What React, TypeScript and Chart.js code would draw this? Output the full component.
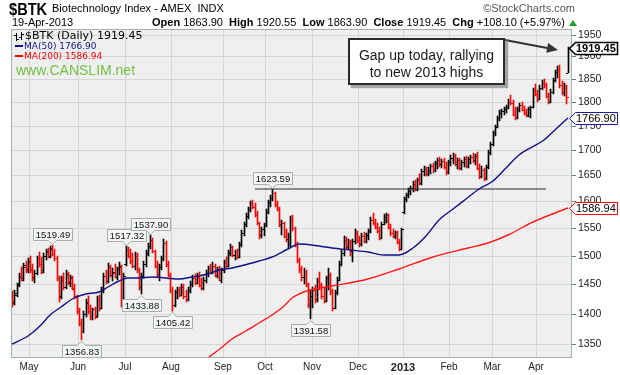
import React, { useEffect, useRef } from "react";
import { Chart, registerables } from "chart.js";

Chart.register(...registerables);

// ---------- Daily bars [open, high, low, close] ----------
const apr2012 = [
  [1425, 1438, 1412, 1418], [1420, 1440, 1415, 1435], [1432, 1452, 1428, 1448], [1450, 1470, 1445, 1465],
  [1462, 1480, 1455, 1458], [1460, 1487, 1456, 1483], [1480, 1490, 1470, 1474], [1476, 1495, 1470, 1490],
];
const may2012 = [
  [1488, 1500, 1470, 1475], [1476, 1485, 1455, 1460], [1462, 1475, 1452, 1470], [1470, 1500, 1466, 1495],
  [1495, 1506, 1480, 1485], [1485, 1498, 1468, 1472], [1474, 1505, 1470, 1500], [1500, 1512, 1492, 1508],
  [1506, 1514, 1495, 1498], [1500, 1518, 1496, 1514], [1512, 1519.49, 1500, 1503], [1503, 1512, 1490, 1495],
  [1495, 1500, 1455, 1460], [1460, 1465, 1420, 1428], [1430, 1465, 1425, 1460], [1458, 1470, 1440, 1445],
  [1446, 1475, 1442, 1468], [1466, 1472, 1448, 1452], [1454, 1466, 1445, 1462], [1460, 1464, 1440, 1443],
  [1442, 1450, 1425, 1430], [1428, 1432, 1400, 1405],
];
const jun2012 = [
  [1405, 1410, 1380, 1385], [1385, 1392, 1356.83, 1372], [1372, 1405, 1368, 1400], [1400, 1425, 1395, 1420],
  [1418, 1430, 1400, 1405], [1405, 1415, 1390, 1396], [1396, 1410, 1390, 1408], [1408, 1412, 1392, 1395],
  [1396, 1430, 1394, 1425], [1425, 1432, 1405, 1410], [1410, 1445, 1408, 1440], [1440, 1470, 1435, 1465],
  [1465, 1475, 1450, 1455], [1456, 1487, 1452, 1480], [1480, 1484, 1462, 1466], [1466, 1478, 1455, 1472],
  [1470, 1485, 1460, 1462], [1462, 1480, 1458, 1476], [1476, 1488, 1466, 1482], [1480, 1484, 1411, 1420],
  [1420, 1470, 1418, 1465],
];
const jul2012 = [
  [1485, 1517.32, 1482, 1510], [1510, 1516, 1495, 1500], [1500, 1512, 1485, 1490], [1490, 1505, 1478, 1482],
  [1482, 1506, 1475, 1500], [1500, 1504, 1470, 1474], [1474, 1478, 1440, 1446], [1446, 1470, 1433.88, 1465],
  [1465, 1490, 1460, 1486], [1486, 1510, 1480, 1505], [1505, 1522, 1500, 1518], [1518, 1537.9, 1512, 1528],
  [1528, 1532, 1505, 1508], [1508, 1510, 1478, 1482], [1482, 1490, 1462, 1468], [1468, 1485, 1455, 1480],
  [1480, 1500, 1475, 1495], [1495, 1530, 1490, 1522], [1522, 1526, 1480, 1486], [1486, 1490, 1462, 1466],
  [1466, 1470, 1435, 1440],
];
const aug2012 = [
  [1440, 1445, 1405.42, 1415], [1415, 1440, 1412, 1436], [1436, 1445, 1425, 1440], [1440, 1446, 1428, 1432],
  [1432, 1450, 1430, 1445], [1445, 1450, 1425, 1430], [1430, 1440, 1420, 1425], [1425, 1445, 1422, 1440],
  [1440, 1455, 1435, 1450], [1450, 1466, 1445, 1460], [1460, 1468, 1448, 1452], [1452, 1470, 1450, 1465],
  [1465, 1472, 1445, 1448], [1448, 1460, 1440, 1444], [1444, 1462, 1440, 1458], [1458, 1475, 1452, 1470],
  [1470, 1482, 1462, 1478], [1478, 1486, 1468, 1472], [1472, 1488, 1468, 1482], [1482, 1486, 1462, 1466],
  [1466, 1480, 1460, 1476], [1476, 1482, 1455, 1458], [1458, 1478, 1452, 1474],
];
const sep2012 = [
  [1474, 1492, 1470, 1488], [1488, 1498, 1478, 1482], [1482, 1510, 1480, 1505], [1505, 1520, 1500, 1515],
  [1515, 1518, 1498, 1502], [1502, 1510, 1492, 1506], [1506, 1512, 1494, 1498], [1498, 1525, 1496, 1520],
  [1520, 1546, 1516, 1540], [1540, 1562, 1536, 1558], [1558, 1578, 1552, 1572], [1572, 1590, 1566, 1585],
  [1585, 1600, 1580, 1596], [1596, 1602, 1585, 1590], [1590, 1596, 1570, 1575], [1575, 1582, 1555, 1560],
  [1560, 1562, 1530, 1538], [1538, 1552, 1532, 1548], [1548, 1560, 1535, 1555],
];
const oct2012 = [
  [1555, 1585, 1552, 1580], [1580, 1602, 1576, 1598], [1598, 1612, 1590, 1606], [1606, 1623.59, 1600, 1615],
  [1615, 1618, 1590, 1594], [1594, 1600, 1582, 1586], [1586, 1590, 1552, 1558], [1558, 1565, 1538, 1560],
  [1560, 1562, 1532, 1536], [1536, 1548, 1525, 1530], [1530, 1540, 1513, 1535], [1535, 1572, 1515, 1566],
  [1566, 1575, 1545, 1550], [1550, 1552, 1515, 1520], [1520, 1525, 1487, 1492], [1492, 1496, 1470, 1476],
  [1476, 1482, 1455, 1462], [1462, 1478, 1450, 1470], [1470, 1474, 1446, 1450], [1450, 1452, 1410, 1415],
  [1415, 1440, 1391.58, 1430],
];
const nov2012 = [
  [1430, 1445, 1410, 1440], [1440, 1448, 1418, 1425], [1425, 1460, 1420, 1455], [1455, 1472, 1440, 1448],
  [1448, 1452, 1425, 1430], [1430, 1445, 1418, 1422], [1422, 1465, 1420, 1460], [1460, 1478, 1440, 1466],
  [1466, 1470, 1432, 1438], [1438, 1442, 1405, 1410], [1410, 1440, 1408, 1436], [1436, 1462, 1432, 1458],
  [1458, 1490, 1455, 1485], [1485, 1510, 1482, 1505], [1505, 1535, 1500, 1528], [1528, 1534, 1512, 1516],
  [1516, 1530, 1510, 1524], [1524, 1528, 1500, 1508], [1508, 1530, 1488, 1526], [1526, 1548, 1520, 1540],
  [1540, 1545, 1522, 1528],
];
const dec2012 = [
  [1528, 1535, 1515, 1520], [1520, 1540, 1518, 1535], [1535, 1542, 1522, 1526], [1526, 1540, 1522, 1538],
  [1538, 1548, 1528, 1544], [1544, 1570, 1540, 1565], [1565, 1578, 1555, 1560], [1560, 1566, 1548, 1552],
  [1552, 1560, 1540, 1545], [1545, 1552, 1528, 1532], [1532, 1562, 1530, 1558], [1558, 1576, 1555, 1570],
  [1570, 1578, 1560, 1574], [1574, 1576, 1548, 1552], [1552, 1558, 1535, 1540], [1540, 1548, 1532, 1536],
  [1536, 1545, 1530, 1542], [1542, 1544, 1520, 1524], [1524, 1530, 1508, 1512], [1512, 1550, 1510, 1548],
];
const jan2013 = [
  [1580, 1608, 1576, 1604], [1604, 1616, 1598, 1612], [1612, 1626, 1606, 1620], [1620, 1630, 1612, 1626],
  [1626, 1638, 1618, 1634], [1634, 1640, 1620, 1624], [1624, 1645, 1620, 1640], [1640, 1652, 1632, 1635],
  [1635, 1662, 1632, 1658], [1658, 1668, 1648, 1662], [1662, 1666, 1648, 1652], [1652, 1666, 1648, 1660],
  [1660, 1672, 1652, 1668], [1668, 1674, 1655, 1660], [1660, 1678, 1656, 1674], [1674, 1684, 1662, 1680],
  [1680, 1686, 1666, 1672], [1672, 1682, 1664, 1678], [1678, 1684, 1662, 1666], [1666, 1676, 1650, 1656],
  [1656, 1680, 1652, 1676],
];
const feb2013 = [
  [1676, 1690, 1668, 1684], [1684, 1694, 1672, 1688], [1688, 1692, 1668, 1672], [1672, 1684, 1662, 1680],
  [1680, 1684, 1660, 1664], [1664, 1680, 1660, 1676], [1676, 1686, 1666, 1682], [1682, 1688, 1664, 1668],
  [1668, 1686, 1664, 1682], [1682, 1690, 1672, 1686], [1686, 1694, 1674, 1680], [1680, 1692, 1670, 1688],
  [1688, 1696, 1660, 1665], [1665, 1672, 1642, 1648], [1648, 1668, 1645, 1660], [1660, 1664, 1638, 1645],
  [1645, 1670, 1640, 1666], [1666, 1700, 1662, 1696], [1696, 1716, 1690, 1712],
];
const mar2013 = [
  [1712, 1740, 1708, 1735], [1735, 1752, 1728, 1748], [1748, 1770, 1745, 1766], [1766, 1782, 1760, 1776],
  [1776, 1786, 1766, 1780], [1780, 1790, 1772, 1786], [1786, 1794, 1776, 1790], [1790, 1806, 1785, 1800],
  [1800, 1815, 1794, 1798], [1798, 1804, 1770, 1775], [1775, 1790, 1762, 1768], [1768, 1790, 1765, 1786],
  [1786, 1798, 1778, 1794], [1794, 1800, 1780, 1784], [1784, 1792, 1772, 1776], [1776, 1785, 1768, 1772],
  [1772, 1790, 1768, 1786], [1786, 1792, 1766, 1790], [1790, 1830, 1788, 1826], [1826, 1838, 1812, 1818],
];
const apr2013 = [
  [1818, 1826, 1800, 1806], [1806, 1836, 1804, 1830], [1830, 1848, 1826, 1842], [1842, 1850, 1830, 1836],
  [1836, 1840, 1808, 1812], [1812, 1820, 1796, 1800], [1800, 1828, 1798, 1822], [1822, 1852, 1818, 1848],
  [1848, 1870, 1844, 1866], [1866, 1878, 1852, 1872], [1872, 1880, 1830, 1836], [1836, 1845, 1815, 1822],
  [1822, 1840, 1812, 1830], [1830, 1836, 1796, 1811.35], [1863.9, 1920.55, 1863.9, 1919.45],
];

// ---------- Axis labels ----------
const monthNames = ["May", "Jun", "Jul", "Aug", "Sep", "Oct", "Nov", "Dec", "2013", "Feb", "Mar", "Apr"];
const priceTicks = [1350, 1400, 1450, 1500, 1550, 1600, 1650, 1700, 1750, 1800, 1850, 1900, 1950];

// ---------- Moving averages (bar index, value) ----------
const ma50Day = [0, 7, 13, 17, 22, 28, 33, 39, 43, 48, 52, 57, 63, 75, 81, 88, 93, 99, 106, 111, 117, 124, 129, 138, 144, 152, 160, 167, 174, 180, 186, 192, 198, 204, 210, 216, 222, 228, 239, 245, 250];
const ma50Value = [1350, 1364, 1381, 1398, 1411, 1427, 1433, 1436, 1445, 1455, 1460, 1460, 1462, 1459, 1462, 1467, 1475, 1478, 1485, 1490, 1498, 1512, 1520, 1518, 1513, 1511, 1506, 1502, 1502, 1513, 1536, 1564, 1586, 1604, 1623, 1639, 1665, 1690, 1720, 1745, 1766.9];
const ma200Day = [85, 94, 99, 105, 111, 117, 122, 126, 129, 134, 144, 160, 174, 189, 205, 214, 223, 234, 250];
const ma200Value = [1321, 1345, 1358, 1371, 1385, 1398, 1413, 1427, 1434, 1440, 1447, 1459, 1476, 1497, 1514, 1523, 1538, 1562, 1586.94];

// ---------- Annotations ----------
const resistanceLevel = 1623.59;
const resistanceSpan = [109, 240];
const peakLabels = [[18, 1519.49], [51, 1517.32], [62, 1537.9], [117, 1623.59]];
const troughLabels = [[31, 1356.83], [58, 1433.88], [72, 1405.42], [134, 1391.58]];
const lastClose = 1919.45;
const lastMa50 = 1766.9;
const lastMa200 = 1586.94;

const SANS = '"Liberation Sans", Arial, Helvetica, sans-serif';
const VERD = '"DejaVu Sans", Verdana, sans-serif';

const monthBars = [apr2012, may2012, jun2012, jul2012, aug2012, sep2012, oct2012, nov2012, dec2012, jan2013, feb2013, mar2013, apr2013];
const bars = monthBars.flat();
const monthStarts: number[] = (() => {
  const out: number[] = [];
  let acc = 0;
  monthBars.forEach((m, k) => {
    if (k > 0) out.push(acc);
    acc += m.length;
  });
  return out;
})();
const isUp = bars.map((b, i) => b[3] >= (i === 0 ? b[0] : bars[i - 1][3]));

const BAR_DS = 3;
const OPEN_DS = 4;
const CLOSE_DS = 5;

function tickImage(color: string, side: "open" | "close") {
  const c = document.createElement("canvas");
  c.width = 5;
  c.height = 1;
  const g = c.getContext("2d")!;
  g.fillStyle = color;
  g.fillRect(side === "open" ? 0 : 3, 0, 2, 1);
  return c;
}

function priceLabel(ctx: CanvasRenderingContext2D, x: number, yTip: number, text: string, above: boolean) {
  ctx.font = `9.5px ${SANS}`;
  const w = Math.round(ctx.measureText(text).width) + 5;
  const h = 12;
  const cx = Math.round(x) + 0.5;
  const left = Math.round(x - w / 2) + 0.5;
  ctx.beginPath();
  let top: number;
  if (above) {
    const bottom = Math.round(yTip) - 5 + 0.5;
    top = bottom - h;
    ctx.moveTo(left, top);
    ctx.lineTo(left + w, top);
    ctx.lineTo(left + w, bottom);
    ctx.lineTo(cx + 4, bottom);
    ctx.lineTo(cx, bottom + 4);
    ctx.lineTo(cx - 4, bottom);
    ctx.lineTo(left, bottom);
  } else {
    top = Math.round(yTip) + 5 + 0.5;
    const bottom = top + h;
    ctx.moveTo(left, top);
    ctx.lineTo(cx - 4, top);
    ctx.lineTo(cx, top - 4);
    ctx.lineTo(cx + 4, top);
    ctx.lineTo(left + w, top);
    ctx.lineTo(left + w, bottom);
    ctx.lineTo(left, bottom);
  }
  ctx.closePath();
  ctx.fillStyle = "#f4f6f4";
  ctx.fill();
  ctx.strokeStyle = "#a3b0a8";
  ctx.lineWidth = 1;
  ctx.stroke();
  ctx.fillStyle = "#111";
  ctx.textAlign = "center";
  ctx.textBaseline = "middle";
  ctx.fillText(text, left + w / 2, top + h / 2 + 0.5);
}

function valueTag(ctx: CanvasRenderingContext2D, yPix: number, border: string, bold: boolean, text: string, lw: number) {
  const yc = Math.round(yPix) + 0.5;
  const x0 = 569.5, x1 = 575.5, x2 = 617.5, h = 6;
  ctx.beginPath();
  ctx.moveTo(x0, yc);
  ctx.lineTo(x1, yc - h);
  ctx.lineTo(x2, yc - h);
  ctx.lineTo(x2, yc + h);
  ctx.lineTo(x1, yc + h);
  ctx.closePath();
  ctx.fillStyle = "#ffffff";
  ctx.fill();
  ctx.strokeStyle = border;
  ctx.lineWidth = lw;
  ctx.stroke();
  ctx.fillStyle = "#000";
  ctx.font = `${bold ? "bold " : ""}11px ${SANS}`;
  ctx.textAlign = "left";
  ctx.textBaseline = "middle";
  ctx.fillText(text, 576, yc + 0.5);
}

const decorPlugin = {
  id: "decor",
  beforeDraw(chart: any) {
    const { ctx, chartArea: a } = chart;
    ctx.save();
    ctx.fillStyle = "#ffffff";
    ctx.fillRect(0, 0, chart.width, chart.height);
    ctx.fillStyle = "#efefef";
    ctx.fillRect(a.left, a.top, a.right - a.left, a.bottom - a.top);
    ctx.restore();
  },
  beforeDatasetDraw(chart: any, args: any) {
    // keep the 1px OHLC strokes on whole device pixels
    if (args.index === BAR_DS) {
      chart.ctx.save();
      chart.ctx.translate(0.5, 0);
    } else if (args.index === OPEN_DS || args.index === CLOSE_DS) {
      chart.ctx.save();
      chart.ctx.translate(0.5, 0.5);
    }
  },
  afterDatasetDraw(chart: any, args: any) {
    if (args.index === BAR_DS || args.index === OPEN_DS || args.index === CLOSE_DS) chart.ctx.restore();
  },
  afterDatasetsDraw(chart: any) {
    const { ctx, chartArea: a } = chart;
    const xs = chart.scales.x;
    const ys = chart.scales.y;
    ctx.save();
    // plot frame
    ctx.strokeStyle = "#9fb2a8";
    ctx.lineWidth = 1;
    ctx.strokeRect(a.left + 0.5, a.top + 0.5, a.right - a.left - 1, a.bottom - a.top - 1);

    // high / low labels
    peakLabels.forEach(([i, v]) => priceLabel(ctx, xs.getPixelForValue(i), ys.getPixelForValue(v), v.toFixed(2), true));
    troughLabels.forEach(([i, v]) => priceLabel(ctx, xs.getPixelForValue(i), ys.getPixelForValue(v), v.toFixed(2), false));

    // legend OHLC icon
    ctx.fillStyle = "#000";
    ctx.fillRect(16, 33, 1, 8);
    ctx.fillRect(14, 35, 2, 1);
    ctx.fillRect(17, 39, 2, 1);
    ctx.fillRect(21, 32, 1, 8);
    ctx.fillRect(19, 37, 2, 1);
    ctx.fillRect(22, 34, 2, 1);

    // arrow from the note box to the last bar
    const tx = 558, ty = 50, sx = 505, sy = 40;
    const dx = tx - sx, dy = ty - sy;
    const len = Math.hypot(dx, dy);
    const ux = dx / len, uy = dy / len;
    const bx = tx - ux * 11, by = ty - uy * 11;
    ctx.strokeStyle = "#333";
    ctx.lineWidth = 2;
    ctx.beginPath();
    ctx.moveTo(sx, sy);
    ctx.lineTo(bx, by);
    ctx.stroke();
    ctx.fillStyle = "#333";
    ctx.beginPath();
    ctx.moveTo(tx, ty);
    ctx.lineTo(bx - uy * 5, by + ux * 5);
    ctx.lineTo(bx + uy * 5, by - ux * 5);
    ctx.closePath();
    ctx.fill();

    // right-hand value tags
    valueTag(ctx, ys.getPixelForValue(lastMa200), "#ff0000", false, lastMa200.toFixed(2), 1);
    valueTag(ctx, ys.getPixelForValue(lastMa50), "#1a1a9a", false, lastMa50.toFixed(2), 1);
    valueTag(ctx, ys.getPixelForValue(lastClose), "#000000", true, lastClose.toFixed(2), 1.5);
    ctx.restore();
  },
};

function ChartCanvas() {
  const ref = useRef<HTMLCanvasElement | null>(null);
  useEffect(() => {
    if (!ref.current) return;
    const openBlack = tickImage("#000000", "open");
    const openRed = tickImage("#ff0000", "open");
    const closeBlack = tickImage("#000000", "close");
    const closeRed = tickImage("#ff0000", "close");
    const chart = new Chart(ref.current, {
      type: "bar",
      data: {
        datasets: [
          {
            type: "line",
            data: ma50Day.map((d, k) => ({ x: d, y: ma50Value[k] })),
            borderColor: "#10108a",
            borderWidth: 1.4,
            pointRadius: 0,
            cubicInterpolationMode: "monotone",
          } as any,
          {
            type: "line",
            data: ma200Day.map((d, k) => ({ x: d, y: ma200Value[k] })),
            borderColor: "#ff1a1a",
            borderWidth: 1.4,
            pointRadius: 0,
            cubicInterpolationMode: "monotone",
          } as any,
          {
            type: "line",
            data: resistanceSpan.map((d) => ({ x: d, y: resistanceLevel })),
            borderColor: "#2a2a2a",
            borderWidth: 1,
            pointRadius: 0,
          } as any,
          {
            type: "bar",
            data: bars.map((b, i) => ({ x: i, y: [b[2], b[1]] })),
            backgroundColor: isUp.map((u) => (u ? "#000000" : "#ff0000")),
            borderWidth: 0,
            barThickness: 1,
            grouped: false,
          } as any,
          {
            type: "scatter",
            data: bars.map((b, i) => ({ x: i, y: b[0] })),
            pointStyle: (c: any) => (isUp[c.dataIndex] ? openBlack : openRed),
            pointRadius: 2,
            showLine: false,
          } as any,
          {
            type: "scatter",
            data: bars.map((b, i) => ({ x: i, y: b[3] })),
            pointStyle: (c: any) => (isUp[c.dataIndex] ? closeBlack : closeRed),
            pointRadius: 2,
            showLine: false,
          } as any,
        ],
      },
      options: {
        animation: false,
        responsive: false,
        maintainAspectRatio: false,
        events: [],
        layout: { padding: { left: 11, top: 29, right: 0, bottom: 0 } },
        plugins: { legend: { display: false }, tooltip: { enabled: false } },
        scales: {
          x: {
            type: "linear",
            min: -0.55,
            max: 251.7,
            bounds: "data",
            offset: false,
            alignToPixels: true,
            afterBuildTicks: (s: any) => {
              s.ticks = monthStarts.map((v) => ({ value: v - 0.4 }));
            },
            afterFit: (s: any) => {
              s.height = 17;
            },
            ticks: {
              autoSkip: false,
              maxRotation: 0,
              minRotation: 0,
              padding: 3,
              color: "#222",
              callback: (_v: any, i: number) => monthNames[i],
              font: (c: any) => ({
                family: SANS,
                size: c.index === 8 ? 11 : 10,
                weight: c.index === 8 ? "bold" : "normal",
              }),
            },
            grid: { color: "#d5d5d5", drawTicks: false, offset: false },
            border: { display: false },
          },
          y: {
            type: "logarithmic",
            position: "right",
            min: 1328.5,
            max: 1962.8,
            bounds: "data",
            alignToPixels: true,
            afterBuildTicks: (s: any) => {
              s.ticks = priceTicks.map((v) => ({ value: v }));
            },
            afterFit: (s: any) => {
              s.width = 48;
            },
            ticks: {
              autoSkip: false,
              padding: 2,
              color: "#222",
              font: { family: SANS, size: 10.5 },
              callback: (v: any) => String(v),
            },
            grid: { color: "#d5d5d5", tickLength: 4, tickColor: "#6d7d74" },
            border: { display: false },
          },
        },
      } as any,
      plugins: [decorPlugin],
    });
    return () => chart.destroy();
  }, []);
  return <canvas ref={ref} width={620} height={375} style={{ position: "absolute", left: 0, top: 0, width: 620, height: 375 }} />;
}

function at(left: number, baseline: number, size: number, family: string, extra: any = {}) {
  return {
    position: "absolute" as const,
    left,
    top: baseline - 0.846 * size,
    fontSize: size,
    lineHeight: `${size}px`,
    fontFamily: family,
    whiteSpace: "pre" as const,
    color: "#000",
    ...extra,
  };
}

export default function App() {
  return (
    <div style={{ position: "fixed", left: 0, top: 0, width: 620, height: 375, background: "#fff", overflow: "hidden" }}>
      <ChartCanvas />
      <div style={at(9, 15.5, 17, SANS, { fontWeight: "bold", transform: "scaleX(0.86)", transformOrigin: "0 0" })}>$BTK</div>
      <div style={at(52, 12.5, 11, SANS)}>Biotechnology Index - AMEX  INDX</div>
      <div style={{ ...at(0, 12.5, 11, SANS, { color: "#555" }), left: undefined, right: 45 }}>©StockCharts.com</div>
      <div style={at(12, 26, 11, SANS)}>19-Apr-2013</div>
      <div style={at(152, 26, 11, SANS)}>
        <b>Open</b> 1863.90  <b>High</b> 1920.55  <b>Low</b> 1863.90  <b>Close</b> 1919.45  <b>Chg</b> +108.10 (+5.97%)
      </div>
      <div
        style={{
          position: "absolute",
          left: 569,
          top: 20,
          width: 0,
          height: 0,
          borderLeft: "4px solid transparent",
          borderRight: "4px solid transparent",
          borderBottom: "6px solid #22a022",
        }}
      />
      <div style={at(25, 39.5, 11, VERD)}>$BTK (Daily) 1919.45</div>
      <div style={{ position: "absolute", left: 15, top: 45, width: 8, height: 2, background: "#10108a" }} />
      <div style={at(24, 49.5, 9, VERD, { color: "#10108a" })}>MA(50) 1766.90</div>
      <div style={{ position: "absolute", left: 15, top: 55, width: 8, height: 2, background: "#ff0000" }} />
      <div style={at(24, 59.5, 9, VERD, { color: "#ff0000" })}>MA(200) 1586.94</div>
      <div style={at(16, 74.5, 14, SANS, { color: "#72c145" })}>www.CANSLIM.net</div>
      <div
        style={{
          position: "absolute",
          left: 348,
          top: 38,
          width: 157,
          height: 47,
          boxSizing: "border-box",
          border: "2px solid #2a2a2a",
          background: "#fff",
          boxShadow: "3px 3px 1px #a5a5a5",
        }}
      />
      <div style={{ ...at(348, 60, 14, SANS, { color: "#1a1a1a" }), width: 157, textAlign: "center" }}>Gap up today, rallying</div>
      <div style={{ ...at(348, 77, 14, SANS, { color: "#1a1a1a" }), width: 157, textAlign: "center" }}>to new 2013 highs</div>
    </div>
  );
}
